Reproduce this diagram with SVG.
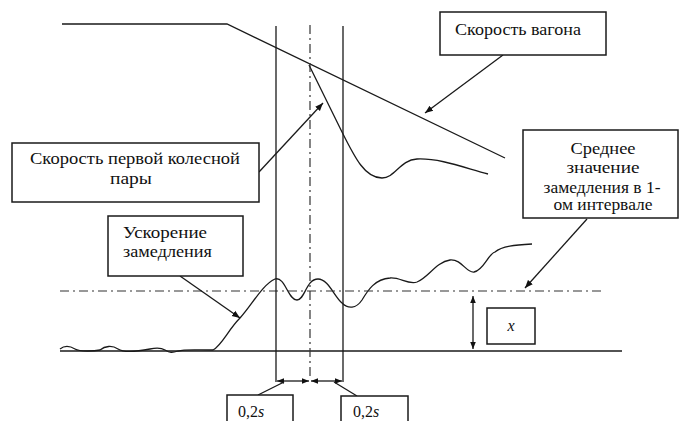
<svg xmlns="http://www.w3.org/2000/svg" width="680" height="421" viewBox="0 0 680 421">
<style>
.ln{fill:none;stroke:#1a1a1a;stroke-width:1.3}
.dd{fill:none;stroke:#333;stroke-width:1.2;stroke-dasharray:9,4,2,4}
.bx{fill:#fff;stroke:#1a1a1a;stroke-width:1.5}
.t{font-family:"Liberation Serif","DejaVu Serif","Times New Roman",serif;font-size:16px;fill:#111}
.ld{fill:none;stroke:#1a1a1a;stroke-width:1.3;marker-end:url(#ah)}
</style>
<defs>
<marker id="ah" viewBox="0 0 10 10" refX="10" refY="5" markerWidth="8" markerHeight="8" markerUnits="userSpaceOnUse" orient="auto">
<path d="M0,1 L10,5 L0,9 z" fill="#111"/>
</marker>
<marker id="ahs" viewBox="0 0 10 10" refX="10" refY="5" markerWidth="7" markerHeight="7" markerUnits="userSpaceOnUse" orient="auto-start-reverse">
<path d="M0,1 L10,5 L0,9 z" fill="#111"/>
</marker>
</defs>
<rect width="680" height="421" fill="#fff"/>

<g id="curves">
<path class="ln" d="M62,24 L227,24 L505,158"/>
<path class="ln" d="M309,65 L342,132 C355,158 365,178 382,178 C395,178 400,160 417,159 C440,158 465,168 488,174"/>
<path class="ln" d="M60,349 C65,345 70,346 75,349 S95,351 100,350 C105,346 112,345 118,349 S140,351 150,349 C155,348 160,347 165,350 S172,353 178,351 C185,349 195,350 213,350 C222,345 228,330 240,318 C252,305 262,285 275,279 C285,276 288,300 297,300 C305,300 306,279 318,279 C328,279 334,296 342,303 C348,309 356,309 362,300 C368,290 375,279 390,278 C400,277 408,285 417,282 C428,278 436,262 450,260 C462,259 466,273 474,272 C484,270 488,254 495,252 C502,246 515,245 532,244"/>
<line class="ln" x1="60" y1="351" x2="622" y2="351"/>
<line class="dd" x1="60" y1="291" x2="605" y2="291"/>
<line class="ln" x1="276" y1="26" x2="276" y2="382"/>
<line class="ln" x1="343" y1="26" x2="343" y2="382"/>
<line class="dd" x1="310" y1="25" x2="310" y2="380"/>
</g>

<g id="connectors">
<line class="ln" x1="277" y1="381" x2="309" y2="381" marker-start="url(#ahs)" marker-end="url(#ahs)"/>
<line class="ln" x1="311" y1="381" x2="342" y2="381" marker-start="url(#ahs)" marker-end="url(#ahs)"/>
<line class="ln" x1="473" y1="296" x2="473" y2="349" marker-start="url(#ahs)" marker-end="url(#ahs)"/>
<line class="ld" x1="503" y1="55" x2="425" y2="113"/>
<line class="ld" x1="259" y1="172" x2="323" y2="103"/>
<line class="ld" x1="180" y1="276" x2="240" y2="318"/>
<line class="ld" x1="587" y1="219" x2="525" y2="288"/>
<line class="ln" x1="258" y1="395" x2="284" y2="382"/>
<line class="ln" x1="357" y1="396" x2="334" y2="382"/>
</g>

<g id="node-wagon-speed">
<rect class="bx" x="440" y="12" width="166" height="43"/>
<text class="t" x="518" y="35" text-anchor="middle" textLength="126" lengthAdjust="spacingAndGlyphs">Скорость вагона</text>
</g>

<g id="node-wheel-speed">
<rect class="bx" x="12" y="143" width="247" height="59"/>
<text class="t" x="135" y="164" text-anchor="middle" textLength="210" lengthAdjust="spacingAndGlyphs">Скорость первой колесной</text>
<text class="t" x="131" y="184" text-anchor="middle" textLength="42" lengthAdjust="spacingAndGlyphs">пары</text>
</g>

<g id="node-deceleration">
<rect class="bx" x="108" y="216" width="135" height="60"/>
<text class="t" x="123" y="238" textLength="84" lengthAdjust="spacingAndGlyphs">Ускорение</text>
<text class="t" x="123" y="257" textLength="89" lengthAdjust="spacingAndGlyphs">замедления</text>
</g>

<g id="node-mean">
<rect class="bx" x="523" y="130" width="155" height="88"/>
<text class="t" x="603" y="154" text-anchor="middle" textLength="65" lengthAdjust="spacingAndGlyphs">Среднее</text>
<text class="t" x="603" y="173" text-anchor="middle" textLength="73" lengthAdjust="spacingAndGlyphs">значение</text>
<text class="t" x="602" y="193" text-anchor="middle" textLength="117" lengthAdjust="spacingAndGlyphs">замедления в 1-</text>
<text class="t" x="603" y="210" text-anchor="middle" textLength="99" lengthAdjust="spacingAndGlyphs">ом интервале</text>
</g>

<g id="node-x">
<rect class="bx" x="487" y="308" width="48" height="36"/>
<text class="t" x="511" y="331" text-anchor="middle" font-style="italic" font-size="18">x</text>
</g>

<g id="node-interval-1">
<rect class="bx" x="227" y="395" width="66" height="30"/>
<text class="t" x="238" y="417">0,2<tspan font-style="italic">s</tspan></text>
</g>

<g id="node-interval-2">
<rect class="bx" x="341" y="396" width="67" height="30"/>
<text class="t" x="353" y="417">0,2<tspan font-style="italic">s</tspan></text>
</g>
</svg>
